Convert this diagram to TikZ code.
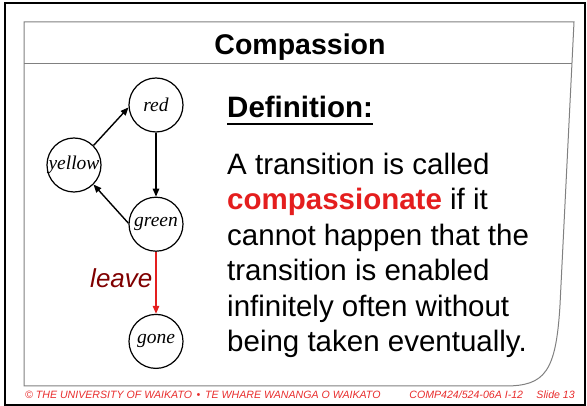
\documentclass[tikz,border=0pt]{standalone}
\usepackage{fontspec}
\setmainfont{Liberation Sans}
\newfontfamily\timesfont{Liberation Serif}
\usepackage{xcolor}
\usetikzlibrary{arrows.meta, positioning}
\definecolor{framegrey}{RGB}{128,128,128}
\definecolor{keyred}{RGB}{228,30,30}
\definecolor{leavered}{RGB}{128,0,0}
\definecolor{footred}{RGB}{232,44,44}
\tikzset{
  state/.style={circle, draw=black, line width=1.2pt, minimum size=54pt, inner sep=0pt, font=\timesfont\itshape\fontsize{19.5}{20}\selectfont},
  trans/.style={line width=1.4pt, -{Triangle[length=8pt,width=6.5pt]}},
  leavearrow/.style={trans, draw=keyred, line width=1.2pt},
  footer/.style={text=footred, font=\itshape\fontsize{10.6}{12}\selectfont, inner sep=0pt}
}

\begin{document}
\begin{tikzpicture}[x=1pt, y=-1pt]
\useasboundingbox (0,0) rectangle (587,406);
% slide frame
\draw[line width=2pt] (4.5,3.5) rectangle (585,404.5);
\draw[framegrey, line width=1pt] (24,22) -- (574,22) -- (560,305)
  .. controls (556,372) and (545,386) .. (505,386) -- (24,386) -- cycle;
\draw[framegrey, line width=1pt] (24,64) -- (572,64);
\node[font=\bfseries\fontsize{28.5}{30}\selectfont, anchor=base, inner sep=0pt] (title) at (300,55) {Compassion};

% traffic light automaton
\node[state] (red) at (156,105) {red};
\node[state, below=64pt of red] (green) {green};
\node[state, below=62pt of green] (gone) {gone};
\node[state] (yellow) at (74,165) {yellow};

\draw[trans] (yellow.45) -- (red.185);
\draw[trans] (red) -- (green);
\draw[trans] (green.178) -- (yellow.-45);
\draw[leavearrow] (green) -- node[pos=0.42, left=3pt, inner sep=0pt, text=leavered, font=\itshape\fontsize{26}{28}\selectfont] (leave) {leave} (gone);

% definition
\node[font=\bfseries\fontsize{29.5}{32}\selectfont, anchor=base west, inner sep=0pt] (def) at (227,118) {Definition:};
\draw[line width=2.5pt] ([yshift=-6pt]def.base west) -- ([yshift=-6pt]def.base east);
\node[font=\fontsize{29.5}{35.6}\selectfont, align=left, anchor=base west, inner sep=0pt] (body) at (227,352)
  {A transition is called\\
   \textcolor{keyred}{\bfseries compassionate} if it\\
   cannot happen that the\\
   transition is enabled\\
   infinitely often without\\
   being taken eventually.};

% footer
\node[footer, anchor=base west] (uni) at (25,399) {© THE UNIVERSITY OF WAIKATO \,•\, TE WHARE WANANGA O WAIKATO};
\node[footer, anchor=base east] (slide) at (575,399) {Slide 13};
\node[footer, anchor=base east] (course) at ([xshift=-13pt]slide.base west) {COMP424/524-06A I-12};
\end{tikzpicture}
\end{document}
